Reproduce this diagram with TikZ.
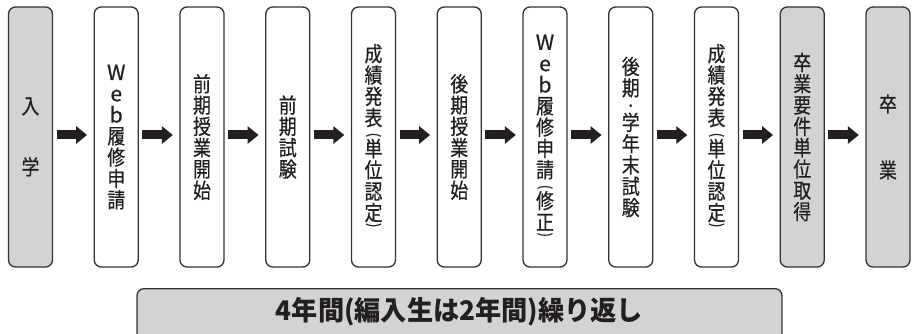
\documentclass[tikz,border=0pt]{standalone}
\usepackage{fontspec}
\usepackage{graphicx}
\setmainfont{Noto Sans CJK JP}
\newfontfamily\boxfont{Noto Sans CJK JP}[FakeStretch=0.85, FakeBold=0.6]
\newfontfamily\latinfont{Noto Sans CJK JP}[FakeBold=0.6]
\newfontfamily\repfont{Noto Sans CJK JP}[FakeStretch=0.97]
\usetikzlibrary{arrows.meta}
\definecolor{boxgray}{HTML}{D2D3D5}
\definecolor{edgecol}{HTML}{333333}
\definecolor{inkcol}{HTML}{231F20}
\newcommand{\vpo}{\\[-7.3pt]{\fontsize{15}{15}\selectfont\rotatebox[origin=c]{-90}{(}}\\[-4.3pt]}
\newcommand{\vpc}{\\[-11.8pt]{\fontsize{15}{15}\selectfont\rotatebox[origin=c]{-90}{)}}}
\newcommand{\vdot}{\\[-6pt]{\fontsize{14}{14}\selectfont ・}\\[-2pt]}
\newcommand{\Web}{{\latinfont W}\\{\latinfont e}\\{\latinfont b}}
\begin{document}
\begin{tikzpicture}[x=1pt,y=-1pt,
  stepbox/.style={draw=edgecol, line width=1.3pt, rounded corners=7pt, fill=white,
    minimum width=44pt, minimum height=260pt, inner sep=0pt, align=center,
    font=\boxfont\fontsize{21}{21.3}\selectfont, text=inkcol},
  graybox/.style={stepbox, fill=boxgray},
  arr/.style={line width=9pt, draw=inkcol, -{Triangle[length=11pt,width=17pt]},
    shorten <=3.5pt, shorten >=6.5pt}]
\useasboundingbox (0,0) rectangle (913,334);
\clip (0,0) rectangle (913,334);
\node[graybox] (b0) at (30.5,137)   {入\\[39.7pt]学};
\node[stepbox] (b1) at (116.25,137) {\Web\\履\\修\\申\\請};
\node[stepbox] (b2) at (202,137)    {前\\期\\授\\業\\開\\始};
\node[stepbox] (b3) at (287.75,137) {前\\期\\試\\験};
\node[stepbox] (b4) at (373.5,137)  {成\\績\\発\\表\vpo 単\\位\\認\\定\vpc};
\node[stepbox] (b5) at (459.25,137) {後\\期\\授\\業\\開\\始};
\node[stepbox] (b6) at (545,137)    {\Web\\履\\修\\申\\請\vpo 修\\正\vpc};
\node[stepbox] (b7) at (630.75,137) {後\\期\vdot 学\\年\\末\\試\\験};
\node[stepbox] (b8) at (716.5,137)  {成\\績\\発\\表\vpo 単\\位\\認\\定\vpc};
\node[graybox] (b9) at (802.25,137) {卒\\業\\要\\件\\単\\位\\取\\得};
\node[graybox] (b10) at (888,137)   {卒\\[44.7pt]業};
\foreach \a/\b in {b0/b1,b1/b2,b2/b3,b3/b4,b4/b5,b5/b6,b6/b7,b7/b8,b8/b9,b9/b10}
  \draw[arr] ([yshift=2pt]\a.east) -- ([yshift=2pt]\b.west);
\node[draw=edgecol, line width=1.3pt, fill=boxgray, rounded corners=7pt,
  minimum width=645pt, minimum height=52pt, inner sep=0pt, anchor=north,
  text height=18pt, text depth=6pt, text=inkcol,
  font=\repfont\bfseries\fontsize{27}{29}\selectfont] (rep) at (459.5,288)
  {4年間(編入生は2年間)繰り返し};
\end{tikzpicture}
\end{document}
